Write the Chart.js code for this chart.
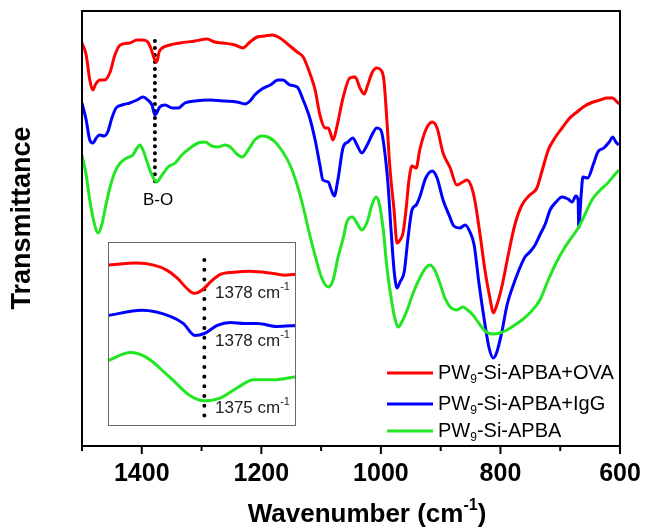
<!DOCTYPE html>
<html>
<head>
<meta charset="utf-8">
<script src="https://cdn.jsdelivr.net/npm/chart.js@4.4.0/dist/chart.umd.min.js"></script>
<style>
  html, body { margin: 0; padding: 0; background: #fff; }
  #wrap { position: relative; width: 646px; height: 531px; }
  #inset { position: absolute; left: 108px; top: 242px; }
</style>
</head>
<body>
<div id="wrap">
  <canvas id="main" width="646" height="531"></canvas>
  <canvas id="inset" width="188" height="184"></canvas>
</div>
<script>
// FTIR spectra, wavenumber (cm-1) vs transmittance (a.u.)
const ovaWn = [1500, 1493, 1487, 1482, 1477, 1470, 1462, 1453, 1445, 1436, 1420, 1408, 1398, 1390, 1385, 1378, 1375, 1371, 1366, 1353, 1336, 1311, 1291, 1278, 1264, 1244, 1231, 1219, 1207, 1194, 1182, 1169, 1152, 1140, 1130, 1119, 1110, 1102, 1093, 1088, 1080, 1073, 1063, 1052, 1043, 1035, 1028, 1022, 1015, 1007, 1000, 995, 990, 985, 978, 973, 968, 963, 958, 953, 948, 941, 935, 925, 914, 906, 896, 884, 873, 863, 856, 849, 843, 834, 826, 817, 812, 806, 797, 787, 776, 764, 751, 739, 730, 720, 709, 697, 684, 672, 659, 645, 633, 622, 613, 603, 600];
const ovaT = [403, 391, 366, 356, 362, 366, 366, 374, 391, 401, 403, 406, 406, 404, 398, 386, 384, 394, 398, 401, 403, 405, 407, 404, 403, 401, 398, 404, 409, 410, 411, 408, 400, 394, 389, 373, 356, 331, 318, 318, 306, 321, 349, 368, 369, 358, 352, 361, 373, 378, 376, 366, 326, 279, 236, 203, 206, 213, 236, 266, 280, 278, 296, 316, 324, 318, 293, 278, 261, 264, 266, 260, 246, 211, 176, 146, 133, 141, 161, 191, 221, 241, 251, 258, 276, 296, 308, 318, 328, 334, 340, 344, 346, 348, 348, 343, 342];

const iggWn = [1500, 1493, 1487, 1482, 1475, 1470, 1463, 1457, 1450, 1443, 1433, 1420, 1408, 1398, 1390, 1383, 1378, 1375, 1370, 1361, 1349, 1339, 1328, 1311, 1286, 1261, 1241, 1227, 1219, 1211, 1199, 1185, 1172, 1164, 1152, 1140, 1130, 1119, 1110, 1102, 1097, 1088, 1083, 1078, 1072, 1063, 1055, 1047, 1040, 1032, 1023, 1015, 1007, 1000, 995, 988, 983, 978, 973, 968, 961, 955, 948, 941, 935, 925, 914, 906, 896, 886, 878, 868, 859, 851, 844, 836, 827, 819, 812, 806, 797, 789, 779, 769, 759, 751, 742, 734, 725, 717, 707, 697, 687, 680, 674, 670, 669, 665, 662, 654, 645, 637, 627, 618, 612, 607, 602];
const iggT = [343, 326, 306, 303, 309, 311, 310, 314, 328, 338, 341, 343, 346, 349, 346, 341, 331, 333, 339, 341, 338, 338, 343, 345, 346, 345, 344, 342, 345, 351, 357, 361, 366, 366, 361, 359, 346, 328, 306, 281, 266, 264, 256, 250, 266, 299, 304, 308, 301, 293, 301, 311, 318, 316, 301, 261, 216, 176, 158, 164, 174, 206, 236, 241, 249, 268, 275, 268, 246, 231, 220, 218, 221, 214, 201, 163, 126, 98, 88, 94, 116, 141, 160, 176, 189, 194, 201, 211, 222, 236, 244, 249, 247, 244, 250, 246, 218, 251, 269, 268, 281, 294, 298, 304, 309, 304, 301];

const apbaWn = [1500, 1493, 1487, 1480, 1473, 1467, 1460, 1453, 1445, 1436, 1425, 1415, 1408, 1403, 1398, 1391, 1383, 1375, 1366, 1356, 1344, 1333, 1319, 1306, 1294, 1283, 1272, 1261, 1252, 1241, 1232, 1222, 1211, 1199, 1189, 1177, 1164, 1152, 1140, 1130, 1119, 1109, 1099, 1088, 1080, 1072, 1063, 1057, 1048, 1040, 1032, 1023, 1015, 1008, 1003, 996, 990, 981, 975, 971, 965, 956, 946, 935, 925, 918, 910, 902, 893, 884, 873, 863, 855, 846, 834, 824, 812, 801, 789, 776, 764, 751, 734, 720, 707, 695, 684, 670, 659, 647, 633, 622, 612, 602];
const apbaT = [291, 271, 246, 224, 213, 221, 241, 259, 274, 283, 288, 291, 298, 301, 296, 284, 271, 264, 271, 279, 283, 291, 298, 303, 304, 300, 299, 301, 299, 292, 289, 296, 306, 310, 309, 304, 294, 281, 261, 239, 211, 188, 168, 159, 166, 188, 208, 224, 229, 223, 216, 224, 241, 249, 243, 216, 179, 141, 124, 119, 124, 136, 153, 168, 178, 181, 176, 164, 148, 139, 136, 139, 136, 131, 121, 114, 112, 113, 116, 121, 126, 133, 146, 166, 183, 196, 206, 218, 231, 246, 256, 262, 269, 276];

// B-O marker (dotted guide)
const boWn = [1378, 1378];
const boT = [405, 258];

// inset: zoom on the B-O band
const insOvaWn = [1460, 1436, 1421, 1410, 1401, 1393, 1387, 1383, 1378, 1373, 1364, 1353, 1339, 1321, 1310, 1300];
const insOvaT = [160, 162, 160, 155, 147, 137, 132, 133, 137, 143, 151, 153, 154, 152, 150, 151];
const insIggWn = [1460, 1431, 1407, 1396, 1386, 1378, 1367, 1356, 1344, 1333, 1316, 1300];
const insIggT = [110, 115, 109, 102, 90, 92, 100, 103, 102, 102, 99, 100];
const insApbaWn = [1460, 1441, 1427, 1407, 1390, 1378, 1364, 1350, 1336, 1319, 1300];
const insApbaT = [65, 73, 68, 48, 30, 25, 28, 38, 46, 46, 49];
const insBoT = [165, 9];
const insPeaks = ['1378', '1378', '1375'];

const xMajor = [1400, 1200, 1000, 800, 600];
const xMinor = [1500, 1300, 1100, 900, 700];
const seriesNames = ['-Si-APBA+OVA', '-Si-APBA+IgG', '-Si-APBA'];
const colors = ['#ff0000', '#0000ff', '#22e622'];

const FONT = "'Liberation Sans', Arial, sans-serif";

function pts(xs, ys) {
  return xs.map((x, i) => ({ x: x, y: ys[i] }));
}

function lineSet(data, color, width) {
  return {
    data: data,
    borderColor: color,
    borderWidth: width,
    pointRadius: 0,
    cubicInterpolationMode: 'monotone',
    fill: false
  };
}

function dotSet(data, gap) {
  return {
    data: data,
    borderColor: '#000',
    borderWidth: 4,
    borderDash: [0.01, gap],
    borderCapStyle: 'round',
    pointRadius: 0,
    fill: false
  };
}

// draws text pieces with sub/superscripts, returns width
function richText(ctx, x, y, parts, size, draw) {
  let w = 0;
  parts.forEach(p => {
    const s = p.shift ? Math.round(size * 0.62) : size;
    ctx.font = (p.bold ? 'bold ' : '') + s + 'px ' + FONT;
    if (draw) ctx.fillText(p.t, x + w, y + (p.shift || 0));
    w += ctx.measureText(p.t).width;
  });
  return w;
}

const mainDecor = {
  id: 'mainDecor',
  afterDraw(chart) {
    const ctx = chart.ctx;
    const a = chart.chartArea;
    const xs = chart.scales.x;
    ctx.save();

    // frame
    ctx.strokeStyle = '#000';
    ctx.lineWidth = 2;
    ctx.strokeRect(a.left, a.top, a.right - a.left, a.bottom - a.top);

    // ticks
    xMajor.concat(xMinor).forEach(v => {
      const px = xs.getPixelForValue(v);
      const len = xMajor.includes(v) ? 8 : 5;
      ctx.beginPath();
      ctx.moveTo(px, a.bottom);
      ctx.lineTo(px, a.bottom + len);
      ctx.stroke();
    });

    ctx.fillStyle = '#000';
    ctx.textBaseline = 'middle';

    // y title
    ctx.save();
    ctx.translate(23, 218);
    ctx.rotate(-Math.PI / 2);
    ctx.textAlign = 'center';
    ctx.font = 'bold 27px ' + FONT;
    ctx.fillText('Transmittance', 0, 0);
    ctx.restore();

    // x title with superscript
    ctx.textAlign = 'left';
    const xt = [
      { t: 'Wavenumber (cm', bold: true },
      { t: '-1', bold: true, shift: -9 },
      { t: ')', bold: true }
    ];
    const tw = richText(ctx, 0, 0, xt, 26, false);
    richText(ctx, 367 - tw / 2, 515, xt, 26, true);

    // B-O label
    ctx.textAlign = 'center';
    ctx.font = '17px ' + FONT;
    ctx.fillText('B-O', 158, 200);

    // legend
    ctx.textAlign = 'left';
    const rows = [373, 404, 431];
    seriesNames.forEach((name, i) => {
      ctx.strokeStyle = colors[i];
      ctx.lineWidth = 3;
      ctx.beginPath();
      ctx.moveTo(387, rows[i]);
      ctx.lineTo(433, rows[i]);
      ctx.stroke();
      richText(ctx, 438, rows[i], [
        { t: 'PW' },
        { t: '9', shift: 7 },
        { t: name }
      ], 20, true);
    });
    ctx.restore();
  }
};

new Chart(document.getElementById('main'), {
  type: 'line',
  data: {
    datasets: [
      lineSet(pts(apbaWn, apbaT), colors[2], 3),
      lineSet(pts(iggWn, iggT), colors[1], 3),
      lineSet(pts(ovaWn, ovaT), colors[0], 3),
      dotSet(pts(boWn, boT), 7)
    ]
  },
  options: {
    responsive: false,
    animation: false,
    events: [],
    layout: { padding: { left: 82, right: 26, top: 11, bottom: 0 } },
    plugins: { legend: { display: false }, tooltip: { enabled: false } },
    scales: {
      x: {
        type: 'linear',
        min: 600,
        max: 1500,
        reverse: true,
        afterBuildTicks: s => { s.ticks = xMajor.map(v => ({ value: v })); },
        afterFit: s => {
          s.height = 85;
          s.paddingLeft = 0;
          s.paddingRight = 0;
        },
        grid: { display: false },
        border: { display: false },
        ticks: {
          color: '#000',
          padding: 5,
          maxRotation: 0,
          callback: v => String(v),
          font: { family: FONT, size: 25, weight: 'bold' }
        }
      },
      y: { display: false, min: 0, max: 435 }
    }
  },
  plugins: [mainDecor]
});

const insetDecor = {
  id: 'insetDecor',
  beforeDraw(chart) {
    const ctx = chart.ctx;
    ctx.save();
    ctx.fillStyle = '#fff';
    ctx.fillRect(0, 0, chart.width, chart.height);
    ctx.restore();
  },
  afterDraw(chart) {
    const ctx = chart.ctx;
    ctx.save();
    ctx.strokeStyle = '#666';
    ctx.lineWidth = 1;
    ctx.strokeRect(0.5, 0.5, chart.width - 1, chart.height - 1);
    ctx.fillStyle = '#222';
    ctx.textBaseline = 'middle';
    const ys = [51, 99, 166];
    insPeaks.forEach((p, i) => {
      richText(ctx, 107, ys[i], [
        { t: p + ' cm' },
        { t: '-1', shift: -6 }
      ], 17, true);
    });
    ctx.restore();
  }
};

new Chart(document.getElementById('inset'), {
  type: 'line',
  data: {
    datasets: [
      lineSet(pts(insOvaWn, insOvaT), colors[0], 3),
      lineSet(pts(insIggWn, insIggT), colors[1], 3),
      lineSet(pts(insApbaWn, insApbaT), colors[2], 3),
      dotSet(pts([1378, 1378], insBoT), 9.7)
    ]
  },
  options: {
    responsive: false,
    animation: false,
    events: [],
    layout: { padding: 0 },
    plugins: { legend: { display: false }, tooltip: { enabled: false } },
    scales: {
      x: { type: 'linear', display: false, min: 1300, max: 1460, reverse: true },
      y: { display: false, min: 0, max: 183 }
    }
  },
  plugins: [insetDecor]
});
</script>
</body>
</html>
